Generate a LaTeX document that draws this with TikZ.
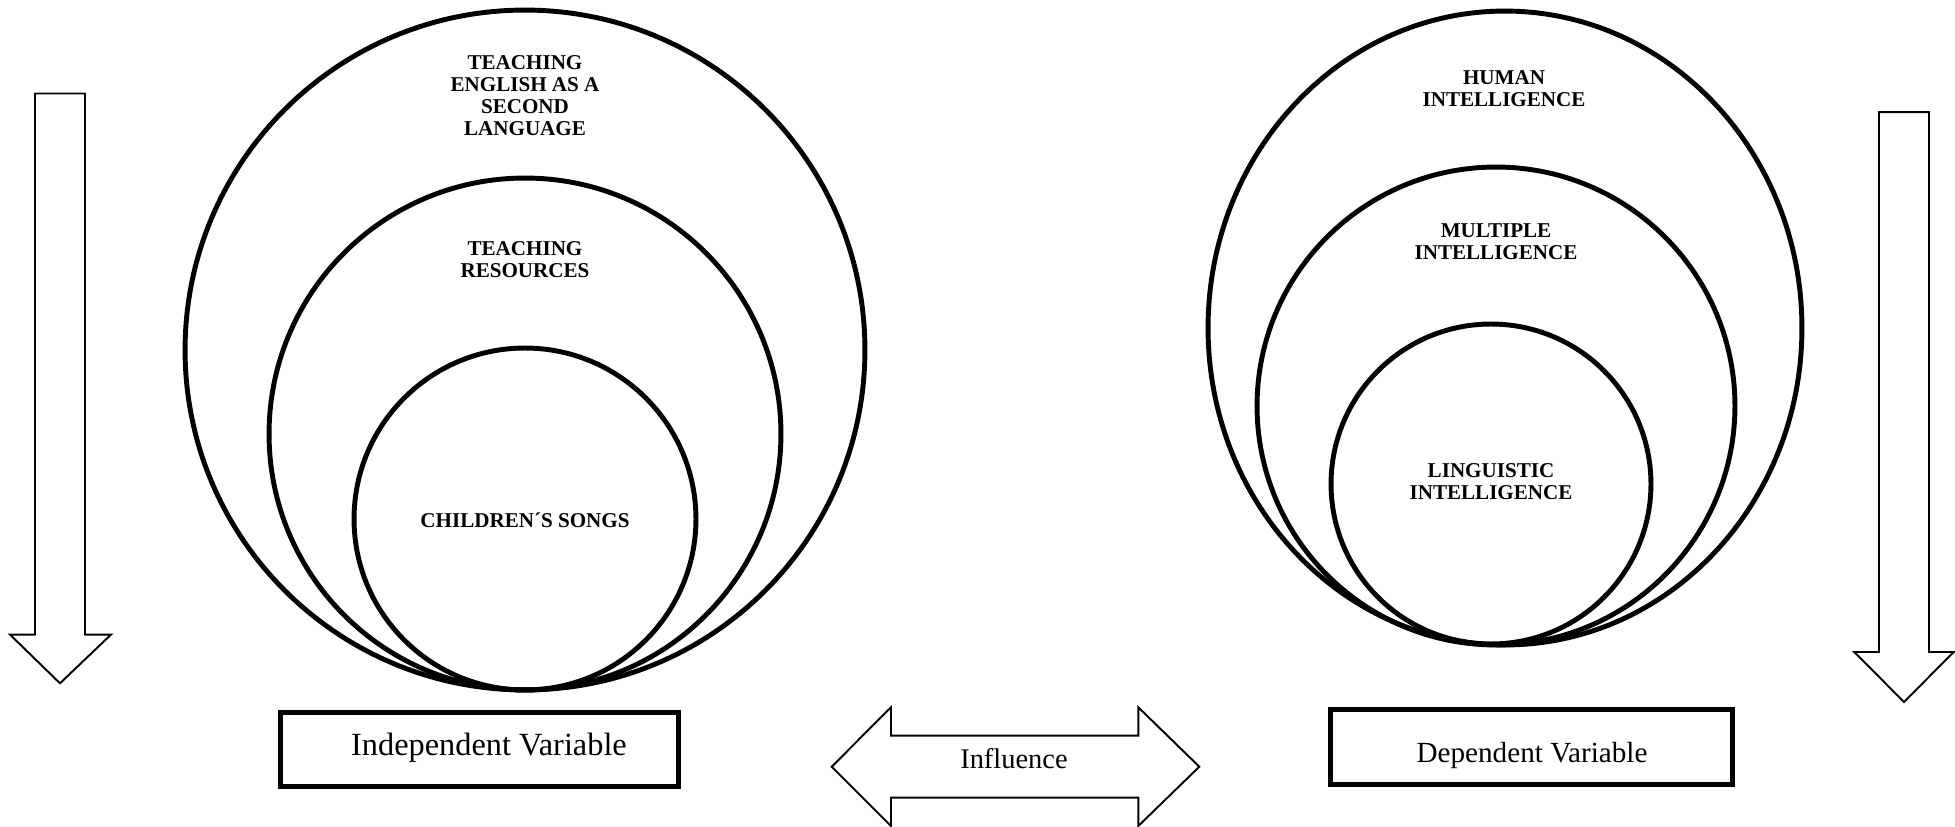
\documentclass[tikz,border=0pt]{standalone}
\usepackage{fontspec}
\setmainfont{Liberation Serif}
\begin{document}
\begin{tikzpicture}[x=0.02cm,y=-0.02cm,
  ring/.style={draw=black,line width=2.8pt},
  lbl/.style={font=\fontsize{12}{12.4}\selectfont\bfseries,align=center,inner sep=0pt},
  varbox/.style={draw=black,line width=2.9pt,rectangle,inner sep=0pt},
  blockarrow/.style={draw=black,line width=1.1pt,line join=miter,fill=white},
  boxtext/.style={anchor=base,inner sep=0pt}]
\useasboundingbox (0,0) rectangle (1955,827);
% left circles
\draw[ring] (525,350) circle[radius=6.8cm];
\draw[ring] (525,434) circle[radius=5.12cm];
\draw[ring] (525,519) circle[radius=3.42cm];
% right circles
\draw[ring] (1505,328) ellipse[x radius=5.94cm,y radius=6.34cm];
\draw[ring] (1496,406) circle[radius=4.78cm];
\draw[ring] (1491,484) circle[radius=3.2cm];
% labels
\node[lbl] (tesl) at (525,95.5) {TEACHING\\ENGLISH AS A\\SECOND\\LANGUAGE};
\node[lbl] (tres) at (525,259.5) {TEACHING\\RESOURCES};
\node[lbl] (songs) at (525,520) {CHILDREN´S SONGS};
\node[lbl] (human) at (1504,89) {HUMAN\\INTELLIGENCE};
\node[lbl] (multi) at (1496,242) {MULTIPLE\\INTELLIGENCE};
\node[lbl] (ling) at (1491,481.5) {LINGUISTIC\\INTELLIGENCE};
% boxes
\node[varbox,minimum width=7.96cm,minimum height=1.48cm] (indbox) at (479.5,749.5) {};
\node[boxtext,font=\fontsize{18.4}{20}\selectfont] (indtext) at (489,755) {Independent Variable};
\node[varbox,minimum width=8.04cm,minimum height=1.5cm] (depbox) at (1531.5,747) {};
\node[boxtext,font=\fontsize{16.6}{18}\selectfont] (deptext) at (1532,762) {Dependent Variable};
% influence double arrow
\draw[blockarrow] (831.7,766.7) -- (891,707.3) -- (891,735.7) -- (1138.3,735.7) -- (1138.3,707.3) -- (1199.3,766.7) -- (1138.3,826) -- (1138.3,797.7) -- (891,797.7) -- (891,826) -- cycle;
\node[boxtext,font=\fontsize{16.2}{18}\selectfont] (infl) at (1014,768) {Influence};
% down arrows
\draw[blockarrow] (35,93.5) -- (85,93.5) -- (85,634.6) -- (111,634.6) -- (60,683.3) -- (10,634.6) -- (35,634.6) -- cycle;
\draw[blockarrow] (1879,112.2) -- (1929,112.2) -- (1929,652) -- (1953.7,652) -- (1904,702) -- (1854.3,652) -- (1879,652) -- cycle;
\end{tikzpicture}
\end{document}
